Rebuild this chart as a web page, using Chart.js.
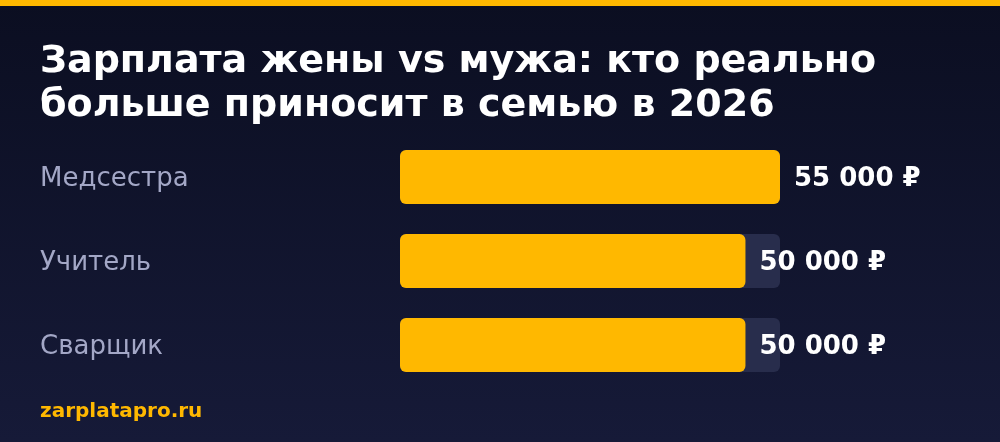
<!DOCTYPE html>
<html>
<head>
<meta charset="utf-8">
<script src="https://cdn.jsdelivr.net/npm/chart.js@4.4.1/dist/chart.umd.min.js"></script>
<style>
  html, body { margin: 0; padding: 0; background: #0d1024; }
  #wrap { width: 1000px; height: 442px; }
</style>
</head>
<body>
<div id="wrap"><canvas id="salaryChart" width="1000" height="442"></canvas></div>
<script>
const titleLines = ["Зарплата жены vs мужа: кто реально", "больше приносит в семью в 2026"];
const footerText = "zarplatapro.ru";
const jobs = ["Медсестра", "Учитель", "Сварщик"];
const salaries = [55000, 50000, 50000];
const trackMax = [55000, 55000, 55000];
const axisMax = 55000;

const YELLOW = '#ffb800';
const FONT = "'DejaVu Sans', sans-serif";

const fmtRub = (v) => String(v).replace(/\B(?=(\d{3})+(?!\d))/g, ' ') + ' ₽';

// background gradient + top stripe
const bgPlugin = {
    id: 'bg',
    beforeDraw(chart) {
        const c = chart.ctx;
        const g = c.createLinearGradient(0, 0, 0, chart.height);
        g.addColorStop(0, '#0b0e21');
        g.addColorStop(1, '#161a38');
        c.save();
        c.fillStyle = g;
        c.fillRect(0, 0, chart.width, chart.height);
        c.fillStyle = YELLOW;
        c.fillRect(0, 0, chart.width, 6);
        c.restore();
    }
};

// value text right after each bar
const valuePlugin = {
    id: 'values',
    afterDatasetsDraw(chart) {
        const c = chart.ctx;
        const meta = chart.getDatasetMeta(0);
        c.save();
        c.font = "bold 26px " + FONT;
        c.fillStyle = '#ffffff';
        c.textAlign = 'left';
        c.textBaseline = 'middle';
        meta.data.forEach((bar, i) => {
            c.fillText(fmtRub(salaries[i]), bar.x + 14, bar.y + 2);
        });
        c.restore();
    }
};

new Chart(document.getElementById('salaryChart').getContext('2d'), {
    type: 'bar',
    data: {
        labels: jobs,
        datasets: [{
            data: salaries,
            backgroundColor: YELLOW,
            borderRadius: 6,
            borderSkipped: false,
            grouped: false,
            barPercentage: 54 / 84,
            categoryPercentage: 1
        }, {
            data: trackMax,
            backgroundColor: '#282d4c',
            borderRadius: 6,
            borderSkipped: false,
            grouped: false,
            barPercentage: 54 / 84,
            categoryPercentage: 1
        }]
    },
    options: {
        indexAxis: 'y',
        responsive: false,
        animation: false,
        layout: { padding: { left: 40, right: 0, top: 0, bottom: 18 } },
        plugins: {
            legend: { display: false },
            tooltip: { enabled: false },
            title: {
                display: true,
                text: titleLines,
                align: 'start',
                color: '#ffffff',
                font: { family: FONT, size: 38, weight: 'bold', lineHeight: 44 / 38 },
                padding: { top: 40, bottom: 7 }
            },
            subtitle: {
                display: true,
                text: footerText,
                position: 'bottom',
                align: 'start',
                color: YELLOW,
                font: { family: FONT, size: 20, weight: 'bold', lineHeight: 1.2 },
                padding: { top: 13, bottom: 0 }
            }
        },
        scales: {
            x: {
                display: false,
                min: 0,
                max: axisMax
            },
            y: {
                grid: { display: false },
                border: { display: false },
                afterFit(scale) { scale.width = 360; },
                ticks: {
                    crossAlign: 'far',
                    labelOffset: 2,
                    color: '#a3a7c6',
                    font: { family: FONT, size: 26 }
                }
            },
            // empty right-hand gutter that leaves room for the value labels
            yGutter: {
                type: 'category',
                position: 'right',
                grid: { display: false },
                border: { display: false },
                ticks: { display: false },
                afterFit(scale) { scale.width = 220; }
            }
        }
    },
    plugins: [bgPlugin, valuePlugin]
});
</script>
</body>
</html>
